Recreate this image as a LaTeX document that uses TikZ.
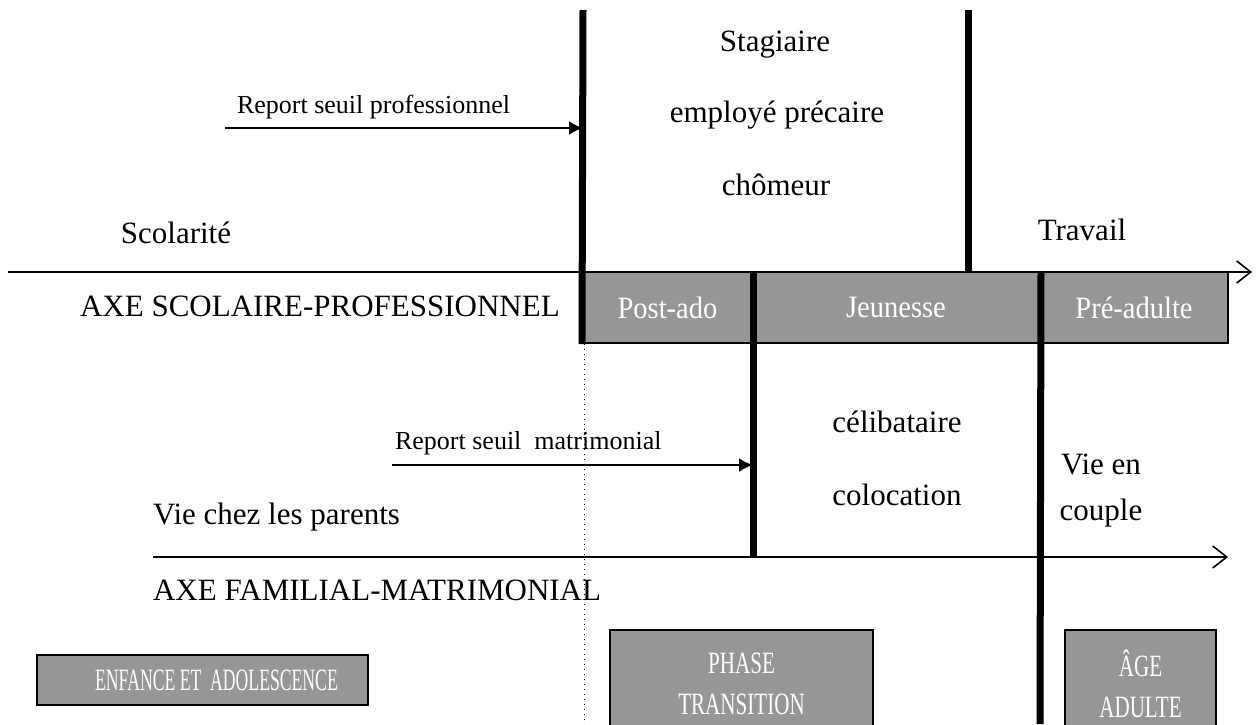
\documentclass[tikz,border=0pt]{standalone}
\usepackage{fontspec}
\setmainfont{Liberation Serif}
\newfontfamily\boxfont[FakeStretch=0.92]{Liberation Serif}
\newfontfamily\phasefont[FakeStretch=0.68]{Liberation Serif}
\newfontfamily\enfantfont[FakeStretch=0.57]{Liberation Serif}
\usetikzlibrary{arrows.meta}
\definecolor{bandgrey}{RGB}{150,150,150}
\tikzset{
  bar/.style={line width=3.5pt, line cap=butt},
  axis/.style={line width=0.8pt, -{Straight Barb[length=7pt,width=11pt,line width=0.8pt]}},
  push/.style={line width=1pt, -{Latex[length=7pt,width=7pt]}},
  greybox/.style={draw, line width=1pt, fill=bandgrey, text=white, inner sep=0pt, align=center,
    font=\boxfont\fontsize{15.5}{20.5}\selectfont},
  phasebox/.style={greybox, font=\phasefont\fontsize{15.5}{20.5}\selectfont},
  lbl/.style={font=\fontsize{15.5}{23}\selectfont, align=center},
  small/.style={font=\fontsize{13}{15}\selectfont}
}
\begin{document}
\begin{tikzpicture}[x=0.5pt,y=-0.5pt]
\def\wide{1259}
\def\high{724}
\useasboundingbox (0,0) rectangle (\wide,\high);
% axe scolaire-professionnel
\coordinate (sa) at (8,272);
\coordinate (sb) at (1252,272);
\node[greybox, minimum width=84.5pt, minimum height=35.5pt] (postado) at (667.5,307.5) {Post-ado};
\node[greybox, minimum width=144pt, minimum height=35.5pt] (jeunesse) at (896,307.5) {Jeunesse};
\node[greybox, minimum width=94pt, minimum height=35.5pt] (preadulte) at (1134,307.5) {Pré-adulte};
\draw[axis] (sa) -- (sb);
% axe familial-matrimonial
\coordinate (fa) at (153,557);
\coordinate (fb) at (1228,557);
\draw[axis] (fa) -- (fb);
% seuils
\coordinate (top1) at (583,10);
\coordinate (top2) at (968,10);
\coordinate (low) at (1040,\high);
\draw[bar] (top1) -- (postado.south west);
\draw[bar] (top2) -- (top2 |- sa);
\draw[bar] (postado.north east) -- (postado.north east |- fa);
\draw[bar] (jeunesse.north east) -- (low);
\draw[dotted, line width=0.5pt] ([xshift=1pt]postado.south west) -- ([xshift=1pt]postado.south west |- low);
% reports
\node[small, anchor=west] (rprof) at (230,107) {Report seuil professionnel};
\node[small, anchor=west] (rmat) at (388,443) {Report seuil~ matrimonial};
\coordinate (rp) at (225,128);
\coordinate (rm) at (392,465);
\draw[push] (rp) -- (rp -| top1);
\draw[push] (rm) -- (rm -| postado.east);
% textes
\node[lbl] (stag) at (775,45) {Stagiaire};
\node[lbl] (empl) at (777,115) {employé précaire};
\node[lbl] (chom) at (776,185) {chômeur};
\node[lbl] (scol) at (176,233) {Scolarité};
\node[lbl] (trav) at (1082,230) {Travail};
\node[lbl, anchor=west] (axes) at (73,306) {AXE SCOLAIRE-PROFESSIONNEL};
\node[lbl] (celi) at (897,422) {célibataire};
\node[lbl] (colo) at (897,495) {colocation};
\node[lbl] (coup) at (1101,491) {Vie en\\couple};
\node[lbl, anchor=west] (pare) at (146,517) {Vie chez les parents};
\node[lbl, anchor=west] (axef) at (146,590) {AXE FAMILIAL-MATRIMONIAL};
% phases
\node[phasebox, minimum width=165.5pt, minimum height=25pt, font=\enfantfont\fontsize{15.5}{17}\selectfont] (enfance) at (202.5,680) {\hspace*{14pt}ENFANCE ET~ ADOLESCENCE};
\node[phasebox, minimum width=131.5pt, minimum height=54pt] (phase) at (741.5,684) {PHASE\\TRANSITION};
\node[phasebox, minimum width=75.5pt, minimum height=54pt] (adulte) at (1140.5,684) {ÂGE\\ADULTE};
\end{tikzpicture}
\end{document}
